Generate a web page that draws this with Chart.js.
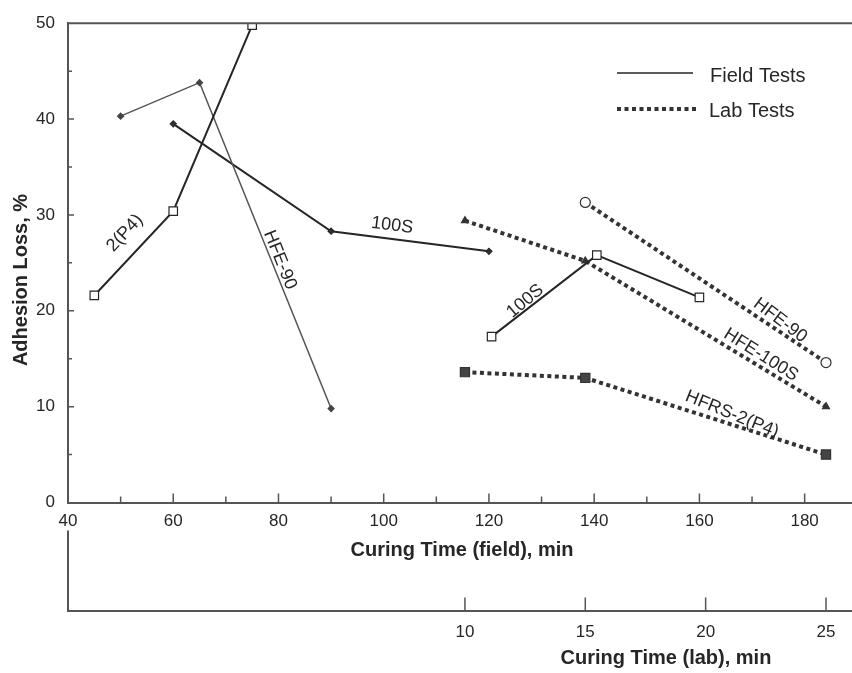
<!DOCTYPE html>
<html>
<head>
<meta charset="utf-8">
<title>Adhesion Loss vs Curing Time</title>
<script src="https://cdn.jsdelivr.net/npm/chart.js@4.4.1/dist/chart.umd.min.js"></script>
<style>
  html, body { margin: 0; padding: 0; background: #fff; overflow: hidden; }
  #wrap { width: 852px; height: 673px; position: relative; }
</style>
</head>
<body>
<div id="wrap"><canvas id="adhesionChart"></canvas></div>
<script>
// Field tests: curing time in the field (min) vs adhesion loss (%)
const p4FieldTime = [45, 60, 75];
const p4FieldLoss = [21.6, 30.4, 49.8];
const hfe90FieldTime = [50, 65, 90];
const hfe90FieldLoss = [40.3, 43.8, 9.8];
const s100FieldTimeA = [60, 90, 120];
const s100FieldLossA = [39.5, 28.3, 26.2];
const s100FieldTimeB = [120.5, 140.5, 160];
const s100FieldLossB = [17.3, 25.8, 21.4];

// Lab tests: curing time in the lab (min)
const hfe90LabTime = [15, 25];
const hfe90LabLoss = [31.3, 14.6];
const hfe100sLabTime = [10, 15, 25];
const hfe100sLabLoss = [29.4, 25.2, 10.0];
const hfrsLabTime = [10, 15, 25];
const hfrsLabLoss = [13.6, 13.0, 5.0];

// tick labels
const fieldTicks = [40, 60, 80, 100, 120, 140, 160, 180];
const labTicks = [10, 15, 20, 25];
const lossTicks = [0, 10, 20, 30, 40, 50];

const INK = '#262626';
const FONT = '"Liberation Sans", Arial, Helvetica, sans-serif';
Chart.defaults.font.family = FONT;
Chart.defaults.color = INK;

function pts(xs, ys) {
  return xs.map((x, i) => ({ x: x, y: ys[i] }));
}

function fieldSet(label, xs, ys, opts) {
  return Object.assign({
    label: label, data: pts(xs, ys), xAxisID: 'x', yAxisID: 'y',
    borderColor: INK, borderWidth: 2, tension: 0,
    pointBorderColor: INK, pointBorderWidth: 1.2, pointBackgroundColor: '#fff'
  }, opts);
}

function labSet(label, xs, ys, opts) {
  return Object.assign({
    label: label, data: pts(xs, ys), xAxisID: 'xLab', yAxisID: 'y',
    borderColor: '#333', borderWidth: 4, borderDash: [4, 3.5], borderCapStyle: 'butt',
    tension: 0, pointBorderColor: '#333', pointBorderWidth: 1.2
  }, opts);
}

// text written along the curves: [text, x, y, axis, rotation deg]
const curveLabels = [
  ['2(P4)', 50.8, 28.1, 'x', -47],
  ['HFE-90', 80.3, 25.3, 'x', 68],
  ['100S', 101.6, 28.9, 'x', 7],
  ['100S', 126.9, 21.0, 'x', -40],
  ['HFE-90', 23.1, 19.0, 'xLab', 37],
  ['HFE-100S', 22.3, 15.4, 'xLab', 32],
  ['HFRS-2(P4)', 21.1, 9.2, 'xLab', 22]
];

const decor = {
  id: 'decor',
  afterDatasetsDraw(chart) {
    const ctx = chart.ctx;
    const y = chart.scales.y;
    ctx.save();
    ctx.fillStyle = INK;
    ctx.font = '18px ' + FONT;
    ctx.textAlign = 'center';
    ctx.textBaseline = 'middle';
    curveLabels.forEach(([txt, vx, vy, axis, rot]) => {
      const px = chart.scales[axis].getPixelForValue(vx);
      const py = y.getPixelForValue(vy);
      ctx.save();
      ctx.translate(px, py);
      ctx.rotate(rot * Math.PI / 180);
      ctx.fillText(txt, 0, 0);
      ctx.restore();
    });
    ctx.restore();
  },
  afterDraw(chart) {
    const ctx = chart.ctx;
    const area = chart.chartArea;
    const x = chart.scales.x, xl = chart.scales.xLab, y = chart.scales.y;
    ctx.save();
    ctx.strokeStyle = '#555';
    ctx.lineWidth = 2;

    // top frame line
    ctx.beginPath();
    ctx.moveTo(area.left - 1, area.top);
    ctx.lineTo(chart.width, area.top);
    ctx.stroke();

    // left rule joining both time axes
    ctx.beginPath();
    ctx.moveTo(area.left, x.bottom - 80);
    ctx.lineTo(area.left, xl.top + 1);
    ctx.stroke();

    // inward ticks
    ctx.lineWidth = 1.5;
    ctx.beginPath();
    for (let v = 5; v <= 45; v += 5) {
      const py = y.getPixelForValue(v);
      ctx.moveTo(area.left, py);
      ctx.lineTo(area.left + (v % 10 === 0 ? 6 : 4), py);
    }
    for (let v = 50; v <= 180; v += 10) {
      const px = x.getPixelForValue(v);
      ctx.moveTo(px, area.bottom);
      ctx.lineTo(px, area.bottom - (v % 20 === 0 ? 9 : 6));
    }
    labTicks.forEach(v => {
      const px = xl.getPixelForValue(v);
      ctx.moveTo(px, xl.top);
      ctx.lineTo(px, xl.top - 13);
    });
    ctx.stroke();

    // axis titles
    ctx.fillStyle = INK;
    ctx.font = 'bold 20px ' + FONT;
    ctx.textAlign = 'center';
    ctx.textBaseline = 'middle';
    ctx.fillText('Curing Time (field), min', 462, 550);
    ctx.fillText('Curing Time (lab), min', 666, 658);
    ctx.save();
    ctx.translate(21, 280);
    ctx.rotate(-Math.PI / 2);
    ctx.fillText('Adhesion Loss, %', 0, 0);
    ctx.restore();

    // legend
    ctx.strokeStyle = INK;
    ctx.lineWidth = 1.5;
    ctx.beginPath();
    ctx.moveTo(617, 73);
    ctx.lineTo(693, 73);
    ctx.stroke();
    ctx.strokeStyle = '#333';
    ctx.lineWidth = 4;
    ctx.setLineDash([4, 3.5]);
    ctx.beginPath();
    ctx.moveTo(617, 109);
    ctx.lineTo(698, 109);
    ctx.stroke();
    ctx.setLineDash([]);
    ctx.font = '20px ' + FONT;
    ctx.textAlign = 'left';
    ctx.fillText('Field Tests', 710, 76);
    ctx.fillText('Lab Tests', 709, 111);
    ctx.restore();
  }
};

const axisGrid = { drawOnChartArea: false, drawTicks: false };
const axisBorder = { color: '#555', width: 2 };

new Chart(document.getElementById('adhesionChart'), {
  type: 'line',
  data: {
    datasets: [
      fieldSet('2(P4) field', p4FieldTime, p4FieldLoss, { pointStyle: 'rect', pointRadius: 6 }),
      fieldSet('HFE-90 field', hfe90FieldTime, hfe90FieldLoss, {
        borderColor: '#555', borderWidth: 1.5, pointStyle: 'rectRot', pointRadius: 3,
        pointBackgroundColor: '#444', pointBorderColor: '#444'
      }),
      fieldSet('100S field', s100FieldTimeA, s100FieldLossA, {
        pointStyle: 'rectRot', pointRadius: 3, pointBackgroundColor: '#333'
      }),
      fieldSet('100S field 2', s100FieldTimeB, s100FieldLossB, { pointStyle: 'rect', pointRadius: 6 }),
      labSet('HFE-90 lab', hfe90LabTime, hfe90LabLoss, {
        pointStyle: 'circle', pointRadius: 5, pointBackgroundColor: '#fff'
      }),
      labSet('HFE-100S lab', hfe100sLabTime, hfe100sLabLoss, {
        pointStyle: 'triangle', pointRadius: 4, pointBackgroundColor: '#333'
      }),
      labSet('HFRS-2(P4) lab', hfrsLabTime, hfrsLabLoss, {
        pointStyle: 'rect', pointRadius: 6.5, pointBackgroundColor: '#444'
      })
    ]
  },
  options: {
    responsive: true,
    maintainAspectRatio: false,
    animation: false,
    layout: { autoPadding: false, padding: { top: 13.5, left: 0, right: 0, bottom: 0 } },
    plugins: { legend: { display: false }, tooltip: { enabled: false } },
    scales: {
      x: {
        type: 'linear', position: 'bottom', min: 40, max: 189, weight: 0,
        afterBuildTicks: s => { s.ticks = fieldTicks.map(v => ({ value: v })); },
        ticks: { padding: 9, color: INK, font: { size: 17 }, autoSkip: false, maxRotation: 0 },
        grid: axisGrid, border: axisBorder,
        afterFit: s => { s.height = 108; }
      },
      xLab: {
        type: 'linear', position: 'bottom', min: -6.49, max: 26.08, weight: 1,
        afterBuildTicks: s => { s.ticks = labTicks.map(v => ({ value: v })); },
        ticks: { padding: 12, color: INK, font: { size: 17 }, autoSkip: false, maxRotation: 0 },
        grid: axisGrid, border: axisBorder,
        afterFit: s => { s.height = 62.5; }
      },
      y: {
        type: 'linear', position: 'left', min: 0, max: 50,
        afterBuildTicks: s => { s.ticks = lossTicks.map(v => ({ value: v })); },
        ticks: { padding: 13, color: INK, font: { size: 17 } },
        grid: axisGrid, border: axisBorder,
        afterFit: s => { s.width = 68; }
      }
    }
  },
  plugins: [decor]
});
</script>
</body>
</html>
